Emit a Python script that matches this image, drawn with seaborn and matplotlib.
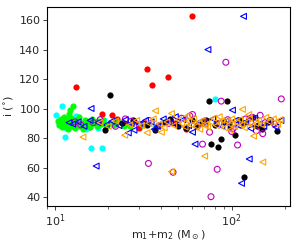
import matplotlib
matplotlib.use("Agg")
import matplotlib.pyplot as plt
import seaborn as sns
import pandas as pd

# total mass (Msun) / inclination (deg)
red_m = [59.4, 33.2, 43.7, 35.5, 13.2, 18.5, 20.9, 11.3, 12.1, 14.0,
         15.5, 17.0, 22.5, 25.0, 28.0, 32.0, 38.0, 30.0, 48.0, 55.0]
red_i = [162.7, 126.8, 121.6, 115.9, 115.0, 96.5, 95.4, 92.0, 90.5, 89.0,
         87.5, 91.0, 93.0, 89.5, 91.5, 90.0, 88.0, 87.0, 90.5, 86.5]

cyan_m = [10.1, 11.0, 11.4, 13.2, 16.0, 18.5, 10.5, 11.6, 12.4, 13.8,
          14.9, 16.2, 17.5, 19.0, 37.0, 40.5, 81.0, 21.0]
cyan_i = [95.6, 101.5, 80.9, 95.1, 73.0, 73.4, 90.0, 87.0, 92.0, 88.5,
          86.0, 90.5, 87.0, 92.5, 87.5, 90.0, 106.4, 89.5]

green_m = [10.4, 10.6, 10.8, 11.0, 11.2, 11.3, 11.5, 11.7, 11.9, 12.0,
           12.3, 12.5, 12.7, 12.9, 13.1, 13.4, 13.6, 13.9, 14.2, 14.5,
           14.8, 15.1, 15.5, 15.8, 16.3, 16.7, 17.2, 17.6, 18.1, 18.8,
           19.5, 20.4, 21.5, 22.8, 24.5, 31.2, 12.7, 12.2, 26.5, 12.0]
green_i = [91.5, 89.0, 93.0, 87.5, 90.5, 94.0, 88.0, 92.0, 86.5, 90.0,
           93.5, 88.5, 91.0, 87.0, 92.5, 89.5, 94.5, 88.0, 90.5, 86.5,
           92.0, 89.0, 91.5, 87.5, 93.0, 90.0, 88.5, 91.5, 89.5, 92.0,
           88.0, 90.5, 89.0, 91.0, 88.5, 88.6, 101.9, 99.0, 88.0, 96.5]

black_m = [20.6, 19.3, 74.1, 94.0, 125.0, 181.0, 148.6, 104.5, 76.4, 83.9,
           86.9, 116.7, 37.0, 55.0, 60.0, 63.6, 24.0, 27.5, 33.0, 42.0,
           50.0, 68.0, 72.0, 80.0, 90.0, 98.0, 110.0, 118.0, 132.0, 140.0,
           160.0, 45.0]
black_i = [109.2, 85.4, 105.3, 105.1, 93.4, 85.0, 86.0, 82.0, 75.9, 74.1,
           79.1, 53.8, 85.5, 87.0, 92.0, 88.0, 90.0, 92.5, 89.0, 91.0,
           88.5, 90.5, 92.5, 89.0, 91.0, 88.0, 92.0, 90.0, 94.0, 88.5,
           91.0, 93.0]

mag_m = [92.7, 87.3, 191.0, 68.4, 108.0, 46.6, 82.8, 76.4, 33.8, 14.0,
         16.5, 13.0, 18.0, 22.0, 25.0, 27.0, 30.0, 34.0, 39.0, 44.0,
         52.0, 58.0, 64.0, 70.0, 75.0, 85.0, 95.0, 102.0, 112.0, 120.0,
         128.0, 138.0, 145.0, 155.0, 165.0, 175.0, 60.0, 100.0, 130.0, 150.0]
mag_i = [131.5, 105.1, 106.6, 75.9, 75.3, 56.8, 58.8, 40.2, 62.8, 89.0,
         90.5, 91.0, 92.5, 88.0, 93.0, 91.5, 89.0, 92.0, 88.5, 90.0,
         93.5, 95.0, 88.0, 91.5, 84.0, 90.0, 92.5, 86.5, 89.0, 93.0,
         91.0, 85.0, 95.5, 90.5, 92.0, 89.5, 96.0, 84.5, 94.0, 83.0]

blue_m = [116.7, 73.4, 101.0, 62.0, 125.7, 113.7, 16.0, 17.1, 28.0, 60.0,
          12.0, 12.6, 13.5, 14.6, 15.8, 17.5, 19.5, 21.0, 23.0, 25.0,
          27.0, 30.0, 32.5, 35.0, 38.0, 41.0, 45.0, 49.0, 53.0, 57.0,
          66.0, 70.0, 78.0, 82.0, 88.0, 93.0, 97.0, 105.0, 110.0, 120.0,
          128.0, 135.0, 143.0, 152.0, 165.0, 178.0, 190.0, 36.5, 26.0, 48.0]
blue_i = [162.7, 140.1, 99.0, 75.9, 65.8, 49.3, 100.1, 61.0, 85.4, 84.0,
          90.5, 89.5, 91.0, 88.0, 92.0, 90.5, 89.0, 91.5, 88.5, 92.5,
          90.0, 89.5, 92.0, 91.0, 88.0, 93.0, 90.5, 89.0, 92.5, 88.5,
          91.0, 89.5, 93.0, 90.0, 88.0, 91.5, 89.0, 92.0, 88.5, 91.0,
          86.5, 93.5, 89.5, 88.0, 91.0, 87.5, 92.0, 86.0, 83.5, 94.5]

orange_m = [14.4, 24.8, 33.2, 37.0, 45.6, 115.0, 133.0, 70.3, 150.0, 45.6,
            18.0, 20.0, 22.0, 26.5, 29.0, 31.0, 34.0, 36.0, 39.0, 41.5,
            43.0, 47.0, 50.0, 52.0, 54.5, 57.0, 59.0, 61.0, 63.0, 65.5,
            68.0, 71.0, 73.0, 76.0, 79.0, 82.0, 85.0, 88.0, 91.0, 94.0,
            97.0, 100.0, 104.0, 107.0, 111.0, 114.0, 118.0, 122.0, 126.0, 130.0,
            137.0, 142.0, 148.0, 156.0, 163.0, 172.0, 182.0, 188.0, 40.0, 66.0,
            98.0, 125.0, 56.0, 85.0]
orange_i = [80.7, 82.0, 83.6, 98.5, 96.7, 99.5, 81.4, 67.8, 63.7, 57.2,
            90.5, 88.0, 91.5, 89.0, 92.0, 88.5, 90.0, 93.0, 89.5, 87.0,
            91.0, 88.5, 92.5, 90.0, 87.5, 91.5, 89.0, 93.0, 88.0, 90.5,
            92.0, 89.0, 87.5, 91.0, 93.5, 88.5, 90.0, 92.0, 87.0, 91.5,
            89.5, 93.0, 88.0, 90.5, 92.5, 89.0, 87.0, 91.0, 93.5, 88.5,
            90.0, 92.0, 89.0, 94.0, 91.0, 93.0, 89.5, 92.5, 84.0, 86.0,
            85.5, 96.0, 95.0, 94.5]

sns.set_style("ticks")
plt.rcParams['font.family'] = ['DejaVu Sans']

fig = plt.figure(figsize=(2.99, 2.43), dpi=100)
ax = fig.add_axes([0.156, 0.153, 0.814, 0.818])

# filled circles
for m, i, c in [(red_m, red_i, 'red'), (cyan_m, cyan_i, 'cyan'),
                (green_m, green_i, 'lime'), (black_m, black_i, 'black')]:
    df = pd.DataFrame({'m': m, 'i': i})
    sns.scatterplot(data=df, x='m', y='i', ax=ax, color=c, marker='o',
                    s=20, linewidth=0, legend=False)

# open markers
for m, i, c, mk in [(mag_m, mag_i, 'm', 'o'), (blue_m, blue_i, 'blue', '<'),
                    (orange_m, orange_i, 'orange', '<')]:
    df = pd.DataFrame({'m': m, 'i': i})
    sns.scatterplot(data=df, x='m', y='i', ax=ax, marker=mk, s=18,
                    facecolors='none', edgecolor=c, linewidth=0.8, legend=False)

ax.set_xscale('log')
ax.set_xlim(8.97, 214)
ax.set_ylim(34, 169)
ax.set_yticks([40, 60, 80, 100, 120, 140, 160])
ax.tick_params(labelsize=8, length=3, width=0.6, pad=1.5)
ax.tick_params(which='minor', length=1.8, width=0.5)
for sp in ax.spines.values():
    sp.set_linewidth(0.8)
    sp.set_color('black')
ax.set_xlabel(r'm$_1$+m$_2$ (M$_\odot$)', fontsize=8, labelpad=0)
ax.set_ylabel(r'i ($^{\circ}$)', fontsize=8, labelpad=2)

fig.savefig('out.png', dpi=100)
